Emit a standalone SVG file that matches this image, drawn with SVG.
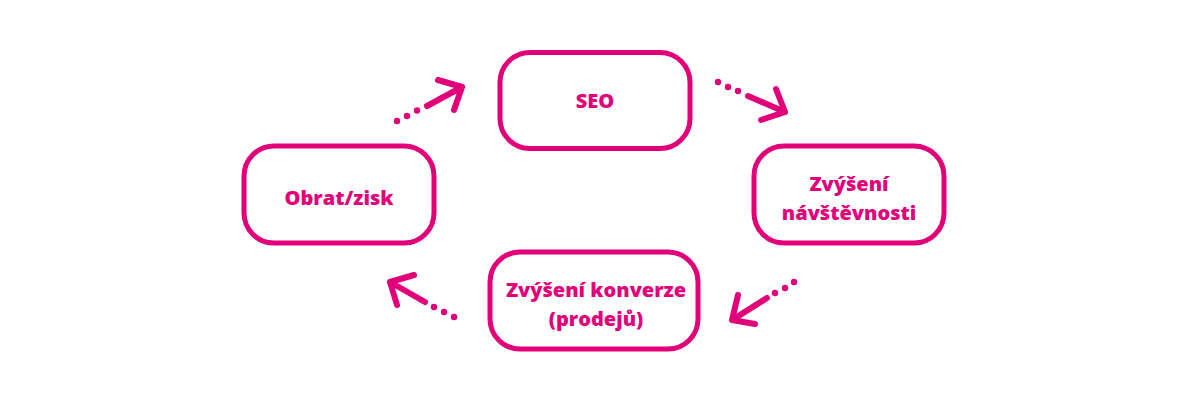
<svg xmlns="http://www.w3.org/2000/svg" width="1200" height="400" viewBox="0 0 1200 400">
<style>
.box{fill:#fff;stroke:#E2007A;stroke-width:5}
.lbl{fill:#E2007A;font-family:"Open Sans","Noto Sans",sans-serif;font-weight:800;font-size:20px;text-anchor:middle}
.ln{fill:none;stroke:#E2007A;stroke-width:6;stroke-linecap:round;stroke-linejoin:round}
.dot{fill:#E2007A}
</style>
<rect width="1200" height="400" fill="#fff"/>
<g id="connectors">
<g id="arrow-obrat-seo">
<circle class="dot" cx="397" cy="121" r="3.2"/><circle class="dot" cx="407" cy="116" r="3.2"/><circle class="dot" cx="417" cy="110.5" r="3.2"/>
<path class="ln" d="M427 106 L462 87 M438 80 L462 87 L454 110"/>
</g>
<g id="arrow-seo-navstevnost">
<circle class="dot" cx="718" cy="82" r="3.2"/><circle class="dot" cx="728" cy="87" r="3.2"/><circle class="dot" cx="738" cy="91" r="3.2"/>
<path class="ln" d="M748 96 L785 112 M776 89 L785 112 L761 120"/>
</g>
<g id="arrow-navstevnost-konverze">
<circle class="dot" cx="794" cy="282" r="3.2"/><circle class="dot" cx="785" cy="288" r="3.2"/><circle class="dot" cx="775" cy="293" r="3.2"/>
<path class="ln" d="M767 298 L732 320 M738 295 L732 320 L755 324"/>
</g>
<g id="arrow-konverze-obrat">
<circle class="dot" cx="454" cy="317" r="3.2"/><circle class="dot" cx="444" cy="312" r="3.2"/><circle class="dot" cx="434" cy="307" r="3.2"/>
<path class="ln" d="M425 302 L390 282 M414 275 L390 282 L397 305"/>
</g>
</g>
<g id="node-seo">
<rect class="box" x="500" y="52.5" width="190" height="96" rx="30"/>
<text class="lbl" x="595" y="108">SEO</text>
</g>
<g id="node-obrat">
<rect class="box" x="244" y="146" width="190" height="97" rx="30"/>
<text class="lbl" x="339" y="205">Obrat/zisk</text>
</g>
<g id="node-navstevnost">
<rect class="box" x="754" y="146" width="190" height="97" rx="30"/>
<text class="lbl" x="849" y="191">Zvýšení</text>
<text class="lbl" x="849" y="220">návštěvnosti</text>
</g>
<g id="node-konverze">
<rect class="box" x="490" y="252" width="208" height="97" rx="30"/>
<text class="lbl" x="596" y="297">Zvýšení konverze</text>
<text class="lbl" x="596" y="326">(prodejů)</text>
</g>
</svg>
